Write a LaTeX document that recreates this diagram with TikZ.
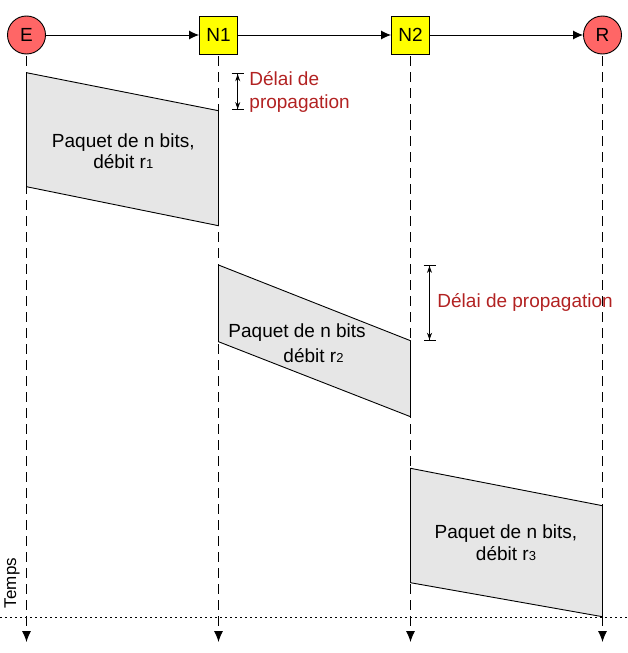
\documentclass[tikz,border=0pt]{standalone}
\usepackage{fontspec}
\setmainfont{Liberation Sans}
\usetikzlibrary{arrows.meta}
\definecolor{rouge}{RGB}{255,102,102}
\definecolor{jaune}{RGB}{255,255,0}
\definecolor{gris}{RGB}{230,230,230}
\definecolor{bordeaux}{RGB}{178,34,34}
\newcommand{\indice}[1]{{\fontsize{13}{13}\selectfont #1}}
\tikzset{
	site/.style={draw,circle,fill=rouge,minimum size=38pt,inner sep=0pt},
	routeur/.style={draw,rectangle,fill=jaune,minimum size=38pt,inner sep=0pt},
	lien/.style={-{Latex[length=10pt,width=9pt]}},
	vie/.style={dash pattern=on 10pt off 6pt,shorten <=2pt,-{Latex[length=11pt,width=9pt]}},
	trame/.style={draw,fill=gris},
	texte/.style={inner sep=0pt,align=center},
	mesure/.style={{Bar[width=12pt]Stealth[length=7pt,width=5pt]}-{Stealth[length=7pt,width=5pt]Bar[width=12pt]}},
	legende/.style={inner sep=0pt,text=bordeaux,align=left,anchor=north west},
}
\begin{document}
\begin{tikzpicture}[x=1pt,y=-1pt,line width=0.9pt,font=\fontsize{19}{21}\selectfont]
		\useasboundingbox (0,0) rectangle (627,653);

		\draw (26.5,35) node (e)[site]{E};
		\draw (218.5,35) node (n1)[routeur]{N1};
		\draw (410.5,35) node (n2)[routeur]{N2};
		\draw (602.5,35) node (r)[site]{R};
		\draw[lien] (e)--(n1);
		\draw[lien] (n1)--(n2);
		\draw[lien] (n2)--(r);

		\coordinate (e0) at (26.5,642);
		\coordinate (n10) at (218.5,642);
		\coordinate (n20) at (410.5,642);
		\coordinate (r0) at (602.5,642);
		\draw[vie] (e)--(e0);
		\draw[vie] (n1)--(n10);
		\draw[vie] (n2)--(n20);
		\draw[vie] (r)--(r0);

		\coordinate (t0) at (0,617.5);
		\coordinate (t1) at (627,617.5);
		\draw[dash pattern=on 2pt off 3pt] (t0)--(t1);
		\node (temps)[inner sep=0pt,rotate=90,font=\fontsize{17}{17}\selectfont] at (12,583) {Temps};

		\draw[trame] (26.5,72.7)--(218.5,110.7)--(218.5,225.7)--(26.5,186.7)--cycle;
		\draw[trame] (218.5,265)--(410.5,340.7)--(410.5,416.7)--(218.5,341.7)--cycle;
		\draw[trame] (410.5,468.3)--(602.5,505.7)--(602.5,616.7)--(410.5,582.7)--cycle;

		\node (p1)[texte,anchor=north] at (123.3,133.7) {Paquet de n bits,\\débit r\indice{1}};
		\node (p2)[texte,align=left,anchor=north west] at (228,323.4) {Paquet de n bits\\[4pt]\hspace*{55pt}débit r\indice{2}};
		\node (p3)[texte,anchor=north] at (506,524.4) {Paquet de n bits,\\[1pt]débit r\indice{3}};

		\coordinate (d1h) at (237.7,73.3);
		\coordinate (d1b) at (237.7,110);
		\draw[mesure] (d1h)--(d1b);
		\node (l1)[legende] at (249,71) {Délai de\\[2pt]propagation};

		\coordinate (d2h) at (429.5,265);
		\coordinate (d2b) at (429.5,340.7);
		\draw[mesure] (d2h)--(d2b);
		\node (l2)[legende] at (437,293.5) {Délai de propagation};
	\end{tikzpicture}
\end{document}
